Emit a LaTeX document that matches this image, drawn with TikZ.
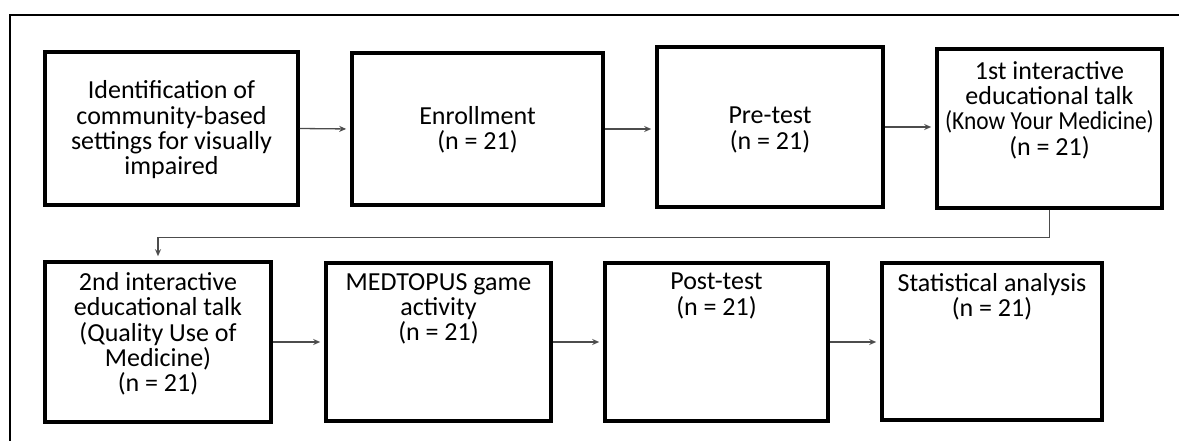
\documentclass[tikz,border=0pt]{standalone}
\usepackage{fontspec}
\setmainfont{Carlito}
\usetikzlibrary{arrows.meta}
\begin{document}
\begin{tikzpicture}[x=1pt,y=-1pt,
  box/.style={draw=black,line width=3.6pt,inner sep=0pt},
  txt/.style={align=center,font=\fontsize{26}{25.3}\selectfont,inner sep=0pt},
  conn/.style={draw=black!70,line width=1.3pt,-{Stealth[length=7pt,width=6pt]},shorten >=4pt}]
\useasboundingbox (0,0) rectangle (1179,441);
% outer frame
\draw[line width=2.4pt] (10,441) -- (10,15) -- (1179,15);
% boxes
\node[box,minimum width=253pt,minimum height=153pt] (b1) at (171.5,128.5) {};
\node[box,minimum width=251pt,minimum height=152pt] (b2) at (477.5,129) {};
\node[box,minimum width=226pt,minimum height=160pt] (b3) at (770,127) {};
\node[box,minimum width=225pt,minimum height=159pt] (b4) at (1049.5,128.5) {};
\node[box,minimum width=226pt,minimum height=160pt] (b5) at (158,342) {};
\node[box,minimum width=225pt,minimum height=158pt] (b6) at (438.5,342) {};
\node[box,minimum width=223pt,minimum height=158pt] (b7) at (716.5,342) {};
\node[box,minimum width=220pt,minimum height=157pt] (b8) at (992,341.5) {};
% texts
\node[txt] (t1) at (171.5,130) {Identification of\\community-based\\settings for visually\\impaired};
\node[txt] (t2) at (477.5,130) {Enrollment\\(n = 21)};
\node[txt] (t3) at (770,130) {Pre-test\\(n = 21)};
\node[txt] (t4) at (1049.5,110) {1st interactive\\educational talk\\\scalebox{0.9}[1]{(Know Your Medicine)}\\(n = 21)};
\node[txt] (t5) at (158,334) {2nd interactive\\educational talk\\(Quality Use of\\Medicine)\\(n = 21)};
\node[txt,anchor=north] (t6) at (438.5,273) {MEDTOPUS game\\activity\\(n = 21)};
\node[txt,anchor=north] (t7) at (716.5,273) {Post-test\\(n = 21)};
\node[txt,anchor=north] (t8) at (992,273) {Statistical analysis\\(n = 21)};
% connectors
\draw[conn] (b1.east) -- (b2.west);
\draw[conn] (b2.east) -- (b2.east -| b3.west);
\draw[conn] (b3.east) -- (b3.east -| b4.west);
\draw[conn] (b4.south) -- ++(0,28) -| (b5.north);
\draw[conn] (b5.east) -- (b6.west);
\draw[conn] (b6.east) -- (b7.west);
\draw[conn] (b7.east) -- (b7.east -| b8.west);
\end{tikzpicture}
\end{document}
